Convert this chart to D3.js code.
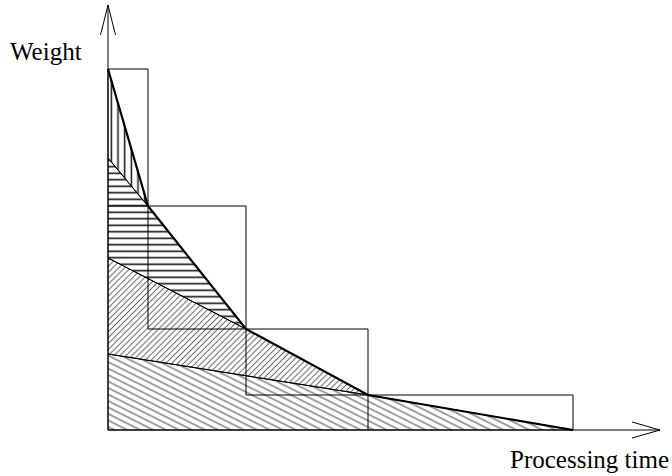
<!DOCTYPE html>
<html>
<head>
<meta charset="utf-8">
<script src="https://cdn.jsdelivr.net/npm/d3@7"></script>
<style>
  html, body { margin: 0; padding: 0; background: #fff; }
  svg { display: block; }
  text { font-family: "Liberation Serif", "Times New Roman", serif; }
</style>
</head>
<body>
<svg id="chart" width="672" height="476"></svg>
<script>
// ---- data (processing time units on x, weight units on y) ----
const axisMaxX = 552;
const axisMaxY = 425;

// thick envelope curve
const curveX = [0, 40, 138, 260, 465];
const curveY = [361, 224, 101, 35, 0];

// two staircase outlines (schedules)
const stairAX = [0, 40, 40, 260, 260];
const stairAY = [361, 361, 101, 101, 0];
const stairBX = [0, 138, 138, 465, 465];
const stairBY = [224, 224, 35, 35, 0];

// hatched regions
const vertRegionX = [0, 40, 0];
const vertRegionY = [361, 224, 272];
const horizRegionX = [0, 40, 138, 0];
const horizRegionY = [272, 224, 101, 172];
const fslashRegionX = [0, 138, 260, 0];
const fslashRegionY = [172, 101, 35, 76];
const bslashRegionX = [0, 260, 465, 0];
const bslashRegionY = [76, 35, 0, 0];

const xLabel = "Processing time";
const yLabel = "Weight";

// ---- drawing ----
const svg = d3.select("#chart");
const x = d3.scaleLinear().domain([0, axisMaxX]).range([108, 660]);
const y = d3.scaleLinear().domain([0, axisMaxY]).range([430, 5]);

const pts = (xs, ys) => xs.map((v, i) => [x(v), y(ys[i])]);
const line = d3.line();

const defs = svg.append("defs");
function hatch(id, spacing, angle, color, width) {
  const p = defs.append("pattern")
    .attr("id", id)
    .attr("patternUnits", "userSpaceOnUse")
    .attr("width", 20)
    .attr("height", spacing)
    .attr("patternTransform", `translate(108,430) rotate(${angle})`);
  p.append("line")
    .attr("x1", 0).attr("x2", 20)
    .attr("y1", spacing / 2).attr("y2", spacing / 2)
    .attr("stroke", color).attr("stroke-width", width);
}
hatch("vert", 6.67, 90, "#111", 1.5);
hatch("horiz", 6.5, 0, "#111", 1.6);
hatch("fslash", 4.2, -45, "#666", 1);
hatch("bslash", 5.8, 26.57, "#444", 1);

const regions = [
  [bslashRegionX, bslashRegionY, "bslash"],
  [fslashRegionX, fslashRegionY, "fslash"],
  [horizRegionX, horizRegionY, "horiz"],
  [vertRegionX, vertRegionY, "vert"]
];
regions.forEach(([xs, ys, id]) => {
  svg.append("path")
    .attr("d", line(pts(xs, ys)) + "Z")
    .attr("fill", `url(#${id})`)
    .attr("stroke", "#000")
    .attr("stroke-width", 1);
});

// staircases
[[stairAX, stairAY], [stairBX, stairBY]].forEach(([xs, ys]) => {
  svg.append("path")
    .attr("d", line(pts(xs, ys)))
    .attr("fill", "none")
    .attr("stroke", "#000")
    .attr("stroke-width", 1);
});

// thick curve
svg.append("path")
  .attr("d", line(pts(curveX, curveY)))
  .attr("fill", "none")
  .attr("stroke", "#000")
  .attr("stroke-width", 2.2)
  .attr("stroke-linejoin", "miter");

// axes with open arrowheads
const ax = svg.append("g").attr("stroke", "#000").attr("stroke-width", 1).attr("fill", "none");
ax.append("path").attr("d", line([[x(0), y(0)], [x(axisMaxX), y(0)]]));
ax.append("path").attr("d", line([[x(0), y(0)], [x(0), y(axisMaxY)]]));
ax.append("path").attr("d", line([[x(axisMaxX) - 28, y(0) - 8], [x(axisMaxX), y(0)], [x(axisMaxX) - 28, y(0) + 8]]));
ax.append("path").attr("d", line([[x(0) - 7.5, y(axisMaxY) + 30], [x(0), y(axisMaxY)], [x(0) + 7.5, y(axisMaxY) + 30]]));

// labels
svg.append("text").attr("x", 10).attr("y", 60).attr("font-size", 25).text(yLabel);
svg.append("text").attr("x", 510).attr("y", 468).attr("font-size", 25).text(xLabel);
</script>
</body>
</html>
